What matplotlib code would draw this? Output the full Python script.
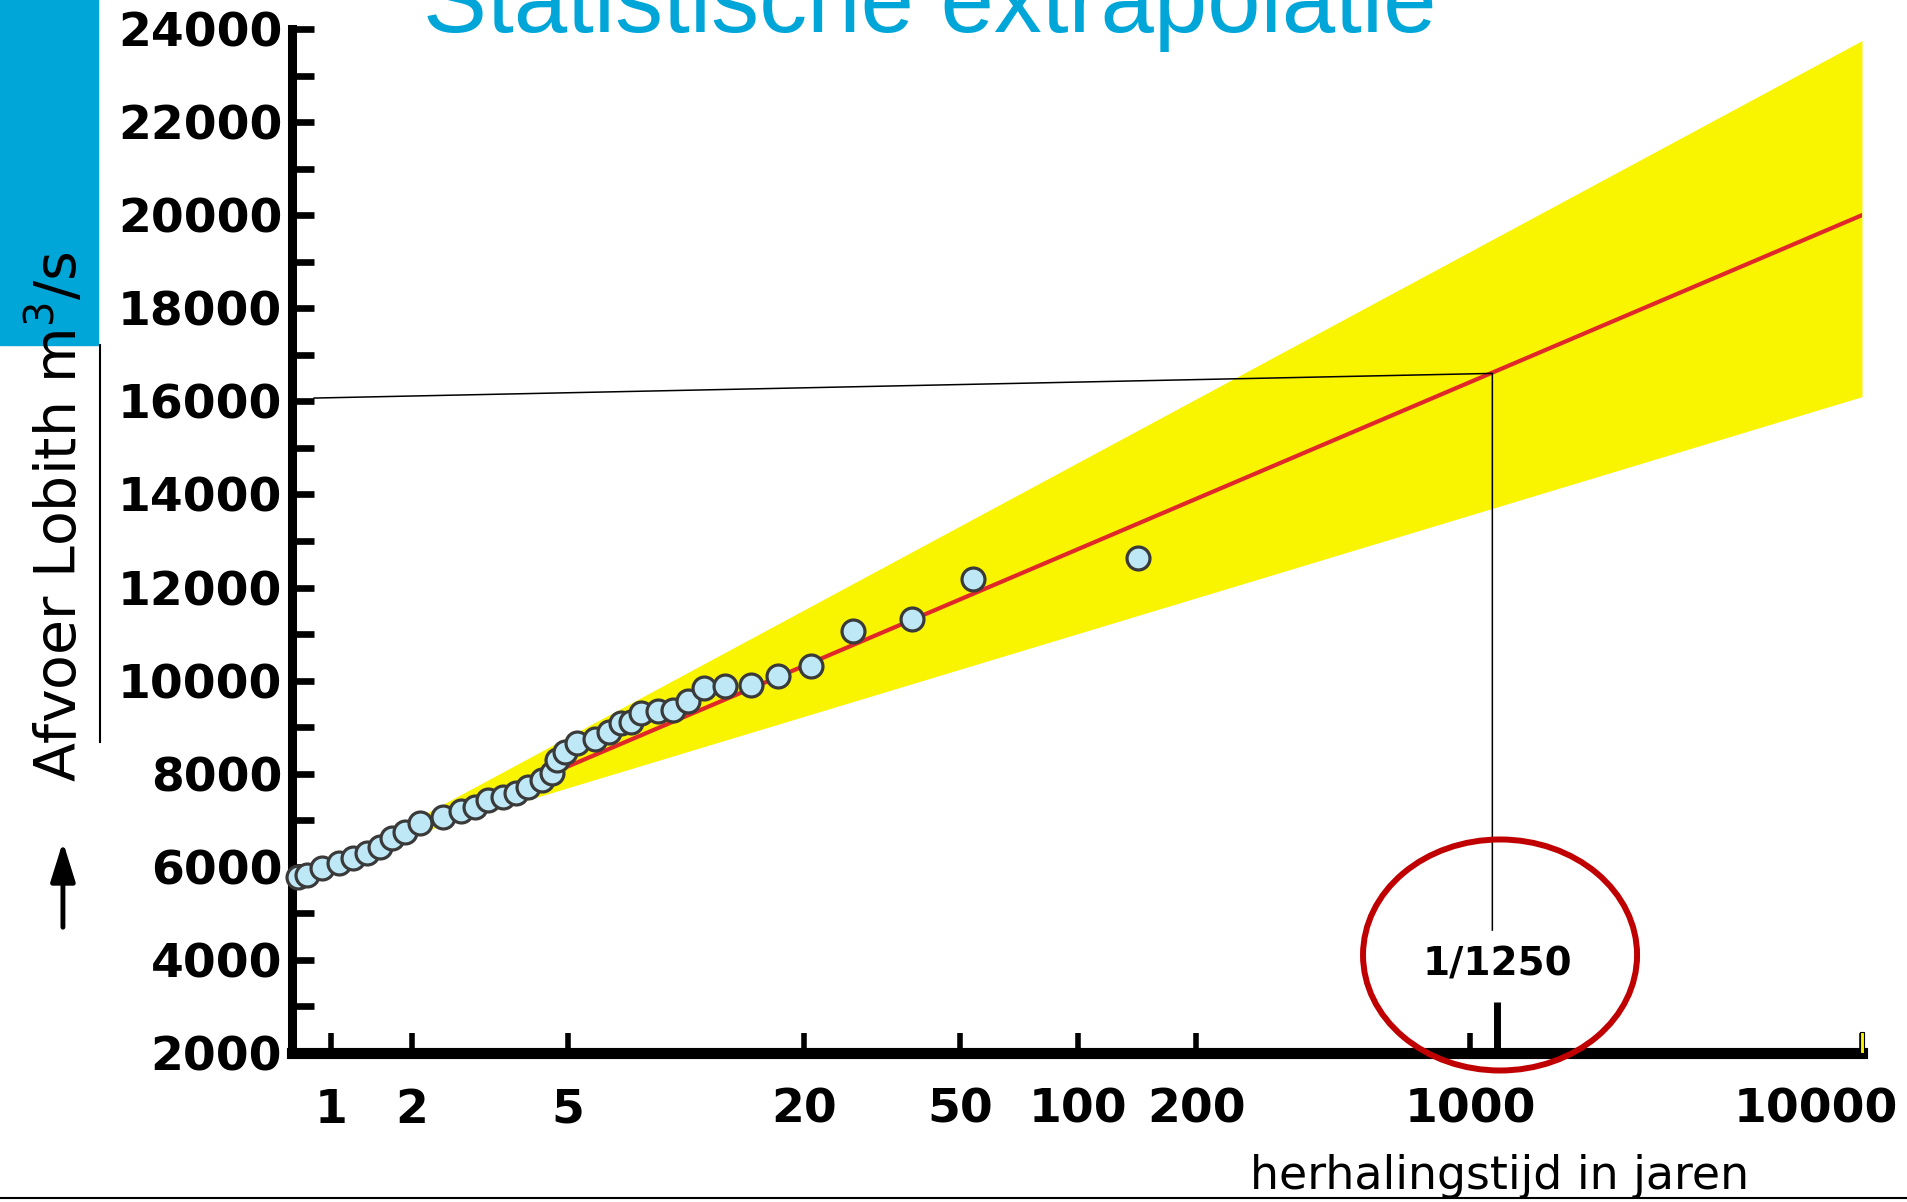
import matplotlib
matplotlib.use('Agg')
import matplotlib.pyplot as plt
from matplotlib.patches import Ellipse, Rectangle
from matplotlib.lines import Line2D
from matplotlib.ticker import NullLocator
from matplotlib.transforms import ScaledTranslation

# observed annual peaks: return period (years) vs discharge (m3/s)
return_period = [1.02, 1.08, 1.18, 1.30, 1.41, 1.53, 1.66, 1.78, 1.92, 2.10,
                 2.40, 2.67, 2.90, 3.13, 3.40, 3.67, 3.96, 4.30, 4.56, 4.67,
                 4.90, 5.26, 5.84, 6.34, 6.81, 7.22, 7.66, 8.47, 9.25, 10.1,
                 11.1, 12.6, 14.6, 17.2, 20.8, 26.7, 37.8, 53.8, 142]
discharge = [5780, 5820, 5980, 6080, 6190, 6300, 6430, 6620, 6750, 6940,
             7070, 7200, 7290, 7440, 7500, 7590, 7720, 7870, 8020, 8300,
             8470, 8660, 8750, 8900, 9090, 9110, 9310, 9350, 9370, 9560,
             9840, 9880, 9910, 10100, 10310, 11070, 11320, 12180, 12630]

# fitted line and confidence band
fit_T = [1.0, 10000]
fit_Q = [5650, 20000]
band_T = [1.41, 10000]
band_low = [6300, 16100]
band_high = [6300, 23750]

# design discharge read-off
design_label = '1/1250'
readoff_T = [1.124, 1140, 1140]
readoff_Q = [16070, 16600, 4640]
design_tick_T = 1175

xtick_pos = [1.24, 2, 5, 20, 50, 100, 200, 1000, 10000]
xtick_labels = ['1', '2', '5', '20', '50', '100', '200', '1000', '10000']
ytick_major = list(range(2000, 24001, 2000))
ytick_minor = list(range(3000, 24000, 2000))

cyan = '#00a6d8'
yellow = '#f9f400'
red = '#e0282a'

plt.rcParams['font.family'] = 'DejaVu Sans'
plt.rcParams['mathtext.fontset'] = 'dejavusans'
plt.rcParams['mathtext.default'] = 'regular'

fig = plt.figure(figsize=(19.07, 12.02), dpi=100)
ax = fig.add_axes([0.1531, 0.1240, 0.8233, 0.8519])
ax.set_xscale('log')
ax.set_xlim(0.987, 10000)
ax.set_ylim(2000, 24000)

ax.fill_between(band_T, band_low, band_high, color=yellow, lw=0, zorder=1)
ax.plot(fit_T, fit_Q, color=red, lw=3, zorder=2)
ax.plot(readoff_T, readoff_Q, color='black', lw=1.1, zorder=3)
ax.plot(return_period, discharge, 'o', ms=16.5, mfc='#bfe8f7', mec='#3a3a3a',
        mew=2.3, zorder=5, clip_on=False)

for s in ['top', 'right']:
    ax.spines[s].set_visible(False)
ax.spines['left'].set_linewidth(6.5)
ax.spines['bottom'].set_linewidth(8)
for s in ['left', 'bottom']:
    ax.spines[s].set_capstyle('projecting')

ax.set_xticks(xtick_pos, xtick_labels)
ax.xaxis.set_minor_locator(NullLocator())
ax.set_yticks(ytick_major, [str(v) for v in ytick_major])
ax.set_yticks(ytick_minor, minor=True)
ax.tick_params(axis='x', direction='in', length=14.5, width=4, pad=25, labelsize=34)
ax.tick_params(axis='y', which='both', direction='in', length=16, width=4.8, pad=7, labelsize=34)
for lab in ax.get_xticklabels() + ax.get_yticklabels():
    lab.set_fontweight('bold')
last = ax.get_xticklabels()[-1]
last.set_transform(last.get_transform() + ScaledTranslation(-0.46, 0, fig.dpi_scale_trans))

ax.axvline(design_tick_T, ymin=0, ymax=0.05, color='black', lw=5, solid_capstyle='butt')
ax.add_patch(Rectangle((0.9985, 0), 0.0025, 0.02, transform=ax.transAxes,
                       fc=yellow, ec='black', lw=0.8, clip_on=False, zorder=6))
ax.text(design_tick_T, 3900, design_label, ha='center', va='center',
        fontsize=28, fontweight='bold')

fig.add_artist(Ellipse((0.7866, 0.2055), 0.1437, 0.1922, transform=fig.transFigure,
                       fill=False, ec='#c00000', lw=4.3, zorder=5))

# slide decorations
fig.add_artist(Rectangle((0, 1 - 345 / 1202), 98 / 1907, 345 / 1202,
                         transform=fig.transFigure, color=cyan, zorder=0))
fig.add_artist(Line2D([0.0524, 0.0524], [0.3827, 0.7130], transform=fig.transFigure,
                      color='black', lw=1.5))
fig.add_artist(Line2D([0, 1], [0.0033, 0.0033], transform=fig.transFigure,
                      color='black', lw=1.5))

fig.text(0.2218, 0.9734, 'Statistische extrapolatie', fontsize=69, color=cyan,
         family='Liberation Sans', ha='left', va='baseline')
fig.text(0.0304, 0.570, r'Afvoer Lobith m$^3$/s', rotation=90, fontsize=41,
         ha='center', va='center')
ax.annotate('', xy=(0.033, 0.302), xytext=(0.033, 0.2263), xycoords='figure fraction',
            textcoords='figure fraction', annotation_clip=False,
            arrowprops=dict(arrowstyle='-|>,head_length=0.8,head_width=0.25',
                            lw=3.5, color='black', mutation_scale=30))
fig.text(0.7866, 0.0108, 'herhalingstijd in jaren', fontsize=33,
         ha='center', va='baseline')

fig.savefig('out.png', dpi=100)
